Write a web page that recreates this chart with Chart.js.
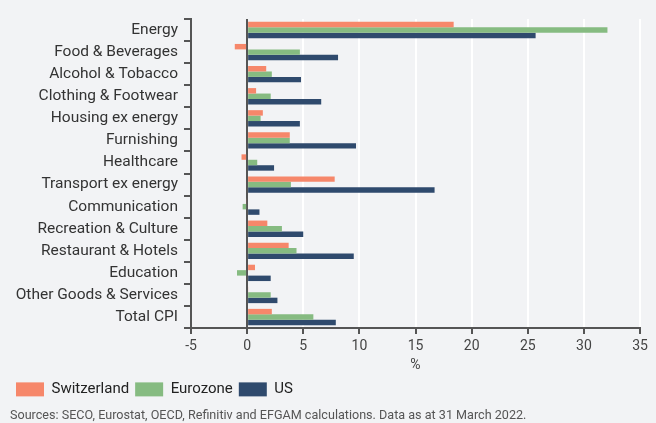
<!DOCTYPE html>
<html>
<head>
<meta charset="utf-8">
<script src="https://cdn.jsdelivr.net/npm/chart.js@4.4.1/dist/chart.umd.min.js"></script>
<style>
  html, body { margin: 0; padding: 0; background: #f2f3f5; }
  #wrap { width: 656px; height: 423px; }
</style>
</head>
<body>
<div id="wrap"><canvas id="cpiChart" width="656" height="423"></canvas></div>
<script>
// categories and values (% y/y)
const categories = ['Energy', 'Food & Beverages', 'Alcohol & Tobacco', 'Clothing & Footwear',
  'Housing ex energy', 'Furnishing', 'Healthcare', 'Transport ex energy', 'Communication',
  'Recreation & Culture', 'Restaurant & Hotels', 'Education', 'Other Goods & Services', 'Total CPI'];
const switzerland = [18.4, -1.1, 1.7, 0.8, 1.4, 3.8, -0.5, 7.8, -0.1, 1.8, 3.7, 0.7, 0.1, 2.2];
const eurozone    = [32.1, 4.7, 2.2, 2.1, 1.2, 3.8, 0.9, 3.9, -0.4, 3.1, 4.4, -0.9, 2.1, 5.9];
const us          = [25.7, 8.1, 4.8, 6.6, 4.7, 9.7, 2.4, 16.7, 1.1, 5.0, 9.5, 2.1, 2.7, 7.9];
const xTicks = [-5, 0, 5, 10, 15, 20, 25, 30, 35];

const axisGrey = '#555';
const fontName = 'Roboto';

const ctx = document.getElementById('cpiChart').getContext('2d');
const cpiChart = new Chart(ctx, {
  type: 'bar',
  data: {
    labels: categories,
    datasets: [
      { label: 'Switzerland', data: switzerland, backgroundColor: '#f6876a' },
      { label: 'Eurozone', data: eurozone, backgroundColor: '#86bb81' },
      { label: 'US', data: us, backgroundColor: '#2f4a6d' }
    ]
  },
  options: {
    indexAxis: 'y',
    responsive: false,
    animation: false,
    categoryPercentage: 0.74,
    barPercentage: 1.0,
    layout: { padding: { top: 19, right: 16, left: 10, bottom: 0 } },
    scales: {
      x: {
        min: xTicks[0],
        max: xTicks[xTicks.length - 1],
        afterBuildTicks: (scale) => { scale.ticks = xTicks.map(v => ({ value: v })); },
        grid: {
          color: (c) => (c.tick && c.tick.value === 0) ? axisGrey : '#ffffff',
          lineWidth: 2,
          tickColor: axisGrey,
          tickLength: 6
        },
        border: { color: axisGrey, width: 2 },
        ticks: { color: '#444', font: { family: fontName, size: 14 }, padding: 4, maxRotation: 0 },
        title: { display: true, text: '%', color: '#444', font: { family: fontName, size: 14, lineHeight: 1 }, padding: { top: 0, bottom: 3 } }
      },
      y: {
        afterFit: (scale) => { scale.width = 181; },
        grid: { drawOnChartArea: false, color: axisGrey, tickLength: 7, lineWidth: 2 },
        border: { color: axisGrey, width: 2 },
        ticks: { color: '#333', font: { family: fontName, size: 15.5 }, padding: 6, autoSkip: false }
      }
    },
    plugins: {
      tooltip: { enabled: false },
      legend: {
        position: 'bottom',
        align: 'start',
        labels: { boxWidth: 28, boxHeight: 14, color: '#222', font: { family: fontName, size: 15 }, padding: 6 }
      },
      subtitle: {
        display: true,
        position: 'bottom',
        align: 'start',
        text: 'Sources: SECO, Eurostat, OECD, Refinitiv and EFGAM calculations. Data as at 31 March 2022.',
        color: '#555',
        font: { family: fontName, size: 12.6 },
        padding: { top: 1, bottom: 0 }
      }
    }
  }
});
</script>
</body>
</html>
